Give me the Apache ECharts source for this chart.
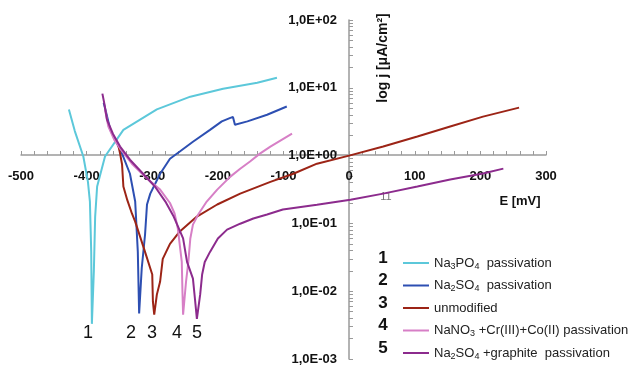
<!DOCTYPE html>
<html>
<head>
<meta charset="utf-8">
<script src="https://cdn.jsdelivr.net/npm/echarts@6/dist/echarts.min.js"></script>
<style>
  html, body { margin: 0; padding: 0; background: #fff; }
  #chart { width: 630px; height: 367px; }
</style>
</head>
<body>
<div id="chart"></div>
<script>
// E [mV] and j [uA/cm2], one pair of arrays per curve
const e1 = [-427, -418, -405, -398, -395, -393, -392, -389, -387, -384, -372, -344, -293, -242, -192, -140, -110]
const j1 = [4.8, 2.3, 0.97, 0.41, 0.21, 0.038, 0.0033, 0.0195, 0.126, 0.35, 0.97, 2.4, 4.8, 7.4, 9.7, 11.9, 14.1]

const e2 = [-374, -370, -364, -355, -346, -334, -326, -322, -320, -317, -316, -311, -308, -303, -288, -273, -258, -238, -212, -194, -181, -177, -174, -155, -125, -95]
const j2 = [6.0, 4.2, 2.4, 1.6, 1.07, 0.54, 0.21, 0.038, 0.0047, 0.0047, 0.022, 0.068, 0.19, 0.275, 0.54, 0.9, 1.15, 1.6, 2.4, 3.2, 3.6, 3.7, 2.85, 3.2, 4.0, 5.3]

const e3 = [-352, -349, -346, -344, -338, -331, -326, -311, -300, -299, -297, -294, -293, -288, -284, -273, -258, -232, -201, -166, -120, -85, -49, 0, 52, 104, 154, 204, 259]
const j3 = [1.45, 1.07, 0.74, 0.35, 0.22, 0.14, 0.106, 0.038, 0.0176, 0.007, 0.0045, 0.0045, 0.0089, 0.0139, 0.03, 0.05, 0.076, 0.126, 0.19, 0.275, 0.41, 0.54, 0.76, 1.0, 1.36, 1.91, 2.68, 3.76, 5.1]

const e4 = [-372, -367, -358, -349, -331, -308, -288, -273, -266, -261, -255, -254, -253, -250, -248.5, -245, -242, -238, -230, -217, -201, -181, -166, -151, -136, -120, -87]
const j4 = [4.8, 2.7, 1.72, 1.27, 0.76, 0.46, 0.315, 0.2, 0.14, 0.084, 0.027, 0.01, 0.0045, 0.0045, 0.0139, 0.027, 0.06, 0.096, 0.135, 0.21, 0.315, 0.49, 0.64, 0.82, 1.07, 1.36, 2.11]

const e5 = [-376, -373, -369, -360, -349, -334, -314, -296, -280, -268, -262, -253, -247, -238, -235, -232, -229, -227, -224, -220, -212, -200, -186, -166, -146, -125, -101, -49, 2, 52, 104, 154, 204, 235]
const j5 = [8.2, 5.85, 3.4, 2.1, 1.36, 0.87, 0.54, 0.35, 0.21, 0.13, 0.096, 0.06, 0.027, 0.0153, 0.0078, 0.0039, 0.0039, 0.0089, 0.0176, 0.027, 0.038, 0.06, 0.081, 0.099, 0.118, 0.135, 0.16, 0.189, 0.224, 0.275, 0.349, 0.443, 0.543, 0.643]

const seriesNames = ['Na3PO4 passivation', 'Na2SO4 passivation', 'unmodified', 'NaNO3 +Cr(III)+Co(II) passivation', 'Na2SO4 +graphite passivation']
const legendLabels = ['Na{s|3}PO{s|4}  passivation', 'Na{s|2}SO{s|4}  passivation', 'unmodified', 'NaNO{s|3} +Cr(III)+Co(II) passivation', 'Na{s|2}SO{s|4} +graphite  passivation']
const curveNumbers = ['1', '2', '3', '4', '5']
const colors = ['#5cc8da', '#2d4fb2', '#9c2416', '#d77fc6', '#8c2b8d']

const xTicks = [-500, -400, -300, -200, -100, 0, 100, 200, 300]

const curves = [[e1, j1], [e2, j2], [e3, j3], [e4, j4], [e5, j5]]

// log minor ticks 1..9 per decade
const yTickValues = []
for (let d = -3; d <= 1; d++) {
  for (let k = 1; k <= 9; k++) {
    yTickValues.push(parseFloat((k * Math.pow(10, d)).toPrecision(3)))
  }
}
yTickValues.push(100)

const font = 'Liberation Sans, Arial, sans-serif'

const chart = echarts.init(document.getElementById('chart'))

function expLabel(v) {
  const p = Math.round(Math.log10(v))
  return '1,0E' + (p < 0 ? '-' : '+') + String(Math.abs(p)).padStart(2, '0')
}

const labelMap = {}
seriesNames.forEach((n, i) => { labelMap[n] = legendLabels[i] })

const graphics = []
// numbers in front of legend rows
const legendRowsY = [258, 280, 303, 325, 348]
curveNumbers.forEach((n, i) => {
  graphics.push({
    type: 'text', x: 383, y: legendRowsY[i],
    style: { text: n, fontSize: 17, fontWeight: 'bold', fill: '#111', fontFamily: font, align: 'center', verticalAlign: 'middle' }
  })
})
// numbers under the corrosion dips
const dipX = [88, 131, 152, 177, 197]
curveNumbers.forEach((n, i) => {
  graphics.push({
    type: 'text', x: dipX[i], y: 333,
    style: { text: n, fontSize: 18, fill: '#111', fontFamily: font, align: 'center', verticalAlign: 'middle' }
  })
})
graphics.push(
  {
    type: 'text', x: 383, y: 58, rotation: Math.PI / 2,
    style: { text: 'log j [μA/cm²]', fontSize: 14, fontWeight: 'bold', fill: '#111', fontFamily: font, align: 'center', verticalAlign: 'middle' }
  },
  {
    type: 'text', x: 520, y: 201,
    style: { text: 'E [mV]', fontSize: 13, fontWeight: 'bold', fill: '#111', fontFamily: font, align: 'center', verticalAlign: 'middle' }
  },
  {
    type: 'text', x: 386, y: 197,
    style: { text: '11', fontSize: 11, fill: '#777', fontFamily: font, align: 'center', verticalAlign: 'middle' }
  }
)

chart.setOption({
  animation: false,
  backgroundColor: '#fff',
  grid: { left: 21, right: 84, top: 20, bottom: 8, containLabel: false, outerBoundsMode: 'none' },
  xAxis: {
    type: 'value',
    min: -500,
    max: 300,
    interval: 100,
    offset: -204,
    axisLine: { onZero: false, lineStyle: { color: '#9a9a9a', width: 1.5 } },
    axisTick: { inside: true, length: 4, lineStyle: { color: '#9a9a9a' } },
    minorTick: { show: true, splitNumber: 5, length: 4, lineStyle: { color: '#9a9a9a' } },
    splitLine: { show: false },
    axisLabel: {
      margin: 15, fontSize: 13, fontWeight: 'bold', color: '#111', fontFamily: font,
      customValues: xTicks
    }
  },
  yAxis: {
    type: 'log',
    logBase: 10,
    min: 0.001,
    max: 100,
    offset: -328,
    axisLine: { onZero: false, lineStyle: { color: '#9a9a9a', width: 1.5 } },
    axisTick: { inside: true, length: 4, lineStyle: { color: '#9a9a9a' }, customValues: yTickValues },
    splitLine: { show: false },
    axisLabel: {
      margin: 12, fontSize: 13, fontWeight: 'bold', color: '#111', fontFamily: font,
      formatter: expLabel
    }
  },
  legend: {
    orient: 'vertical',
    left: 398,
    top: 250,
    icon: 'rect',
    itemWidth: 26,
    itemHeight: 2,
    itemGap: 6.5,
    selectedMode: false,
    data: seriesNames,
    formatter: name => labelMap[name],
    textStyle: {
      fontSize: 13, color: '#222', fontFamily: font, lineHeight: 16,
      rich: {
        s: { fontSize: 9, lineHeight: 12, verticalAlign: 'bottom', color: '#222', fontFamily: font }
      }
    }
  },
  series: curves.map((c, i) => ({
    name: seriesNames[i],
    type: 'line',
    symbol: 'none',
    color: colors[i],
    lineStyle: { width: 2, color: colors[i] },
    data: c[0].map((e, k) => [e, c[1][k]])
  })),
  graphic: graphics
})
</script>
</body>
</html>
